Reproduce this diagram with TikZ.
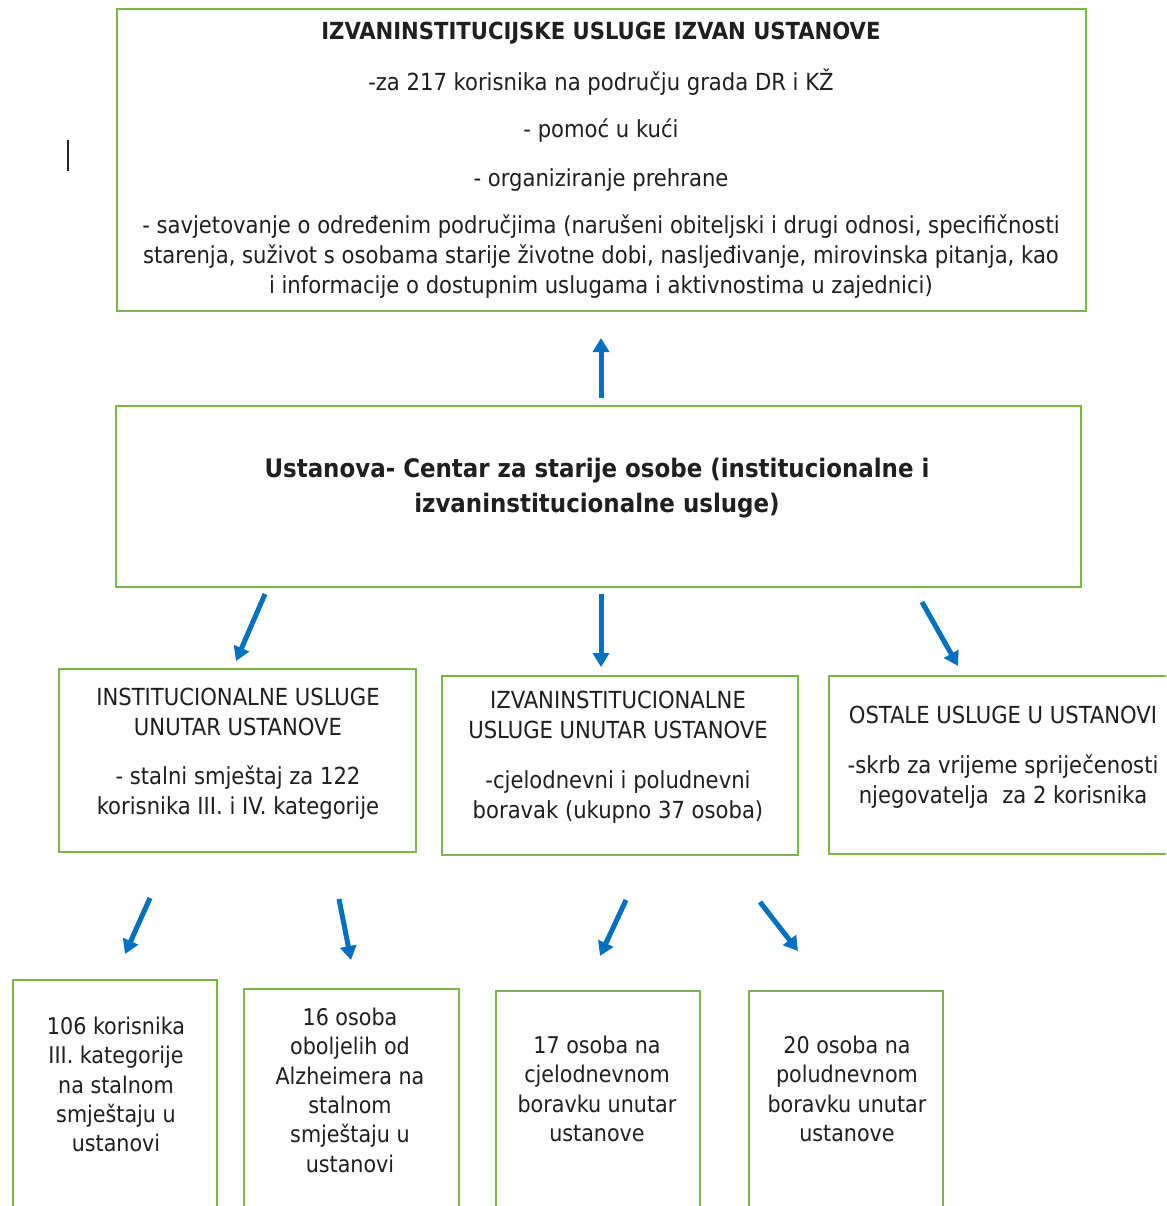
\documentclass[tikz,border=0pt]{standalone}
\usepackage{fontspec}
\setmainfont{DejaVu Sans Condensed}
\usetikzlibrary{arrows.meta}
\definecolor{boxgreen}{RGB}{122,182,72}
\definecolor{arrowblue}{RGB}{0,112,192}
\begin{document}
\begin{tikzpicture}[x=1pt,y=-1pt,
  box/.style={draw=boxgreen,line width=2pt,inner sep=0pt},
  arr/.style={draw=arrowblue,line width=5pt,-{Triangle[width=16pt,length=14pt]}},
  txt/.style={align=center,inner sep=0pt,anchor=north,text=black!88,font=\fontsize{23.5}{30}\selectfont},
  smalltxt/.style={txt,font=\fontsize{23}{29.3}\selectfont},
  bigtxt/.style={align=center,inner sep=0pt,anchor=center,text=black!88,font=\fontsize{25.5}{35}\selectfont\bfseries}]
\useasboundingbox (0,0) rectangle (1166,1206);
\fill[white] (0,0) rectangle (1166,1206);
\begin{scope}
\clip (0,0) rectangle (1166,1206);
% boxes
\node[box,minimum width=969,minimum height=302] (top) at (601.5,160) {};
\node[box,minimum width=965,minimum height=181] (mid) at (598.5,496.5) {};
\node[box,minimum width=357,minimum height=183] (boxL) at (237.5,760.5) {};
\node[box,minimum width=356,minimum height=179] (boxM) at (620,765.5) {};
\node[box,minimum width=371,minimum height=178] (boxR) at (1014.5,765) {};
\node[box,minimum width=204,minimum height=250] (b1) at (115,1105) {};
\node[box,minimum width=215,minimum height=241] (b2) at (351.5,1109.5) {};
\node[box,minimum width=204,minimum height=239] (b3) at (598,1110.5) {};
\node[box,minimum width=194,minimum height=239] (b4) at (846,1110.5) {};
% texts
\node[txt] (topT) at (601,22) {{\bfseries IZVANINSTITUCIJSKE USLUGE IZVAN USTANOVE}\\[21pt]
-za 217 korisnika na području grada DR i KŽ\\[17pt]
- pomoć u kući\\[19pt]
- organiziranje prehrane\\[17pt]
- savjetovanje o određenim područjima (narušeni obiteljski i drugi odnosi, specifičnosti\\
starenja, suživot s osobama starije životne dobi, nasljeđivanje, mirovinska pitanja, kao\\
i informacije o dostupnim uslugama i aktivnostima u zajednici)};
\node[bigtxt] (midT) at (597,488) {Ustanova- Centar za starije osobe (institucionalne i\\izvaninstitucionalne usluge)};
\node[txt] (boxLT) at (238,688) {INSTITUCIONALNE USLUGE\\UNUTAR USTANOVE\\[19pt]- stalni smještaj za 122\\korisnika III. i IV. kategorije};
\node[txt] (boxMT) at (618,691) {IZVANINSTITUCIONALNE\\USLUGE UNUTAR USTANOVE\\[20pt]-cjelodnevni i poludnevni\\boravak (ukupno 37 osoba)};
\node[txt] (boxRT) at (1003,706) {OSTALE USLUGE U USTANOVI\\[20pt]-skrb za vrijeme spriječenosti\\njegovatelja\ \ za 2 korisnika};
\node[smalltxt] (b1T) at (116,1017) {106 korisnika\\III. kategorije\\na stalnom\\smještaju u\\ustanovi};
\node[smalltxt] (b2T) at (350,1008) {16 osoba\\oboljelih od\\Alzheimera na\\stalnom\\smještaju u\\ustanovi};
\node[smalltxt] (b3T) at (597,1036) {17 osoba na\\cjelodnevnom\\boravku unutar\\ustanove};
\node[smalltxt] (b4T) at (847,1036) {20 osoba na\\poludnevnom\\boravku unutar\\ustanove};
% arrow end points
\coordinate (u0) at (601,398); \coordinate (u1) at (601,338);
\coordinate (c1s) at (265,594); \coordinate (c1e) at (236,661);
\coordinate (c2s) at (601,594); \coordinate (c2e) at (601,667);
\coordinate (c3s) at (922,602); \coordinate (c3e) at (958,666);
\coordinate (d1s) at (150,898); \coordinate (d1e) at (125,954);
\coordinate (d2s) at (339,899); \coordinate (d2e) at (351,960);
\coordinate (d3s) at (626,900); \coordinate (d3e) at (600,956);
\coordinate (d4s) at (760,902); \coordinate (d4e) at (798,951);
\draw[arr] (u0) -- (u1);
\draw[arr] (c1s) -- (c1e);
\draw[arr] (c2s) -- (c2e);
\draw[arr] (c3s) -- (c3e);
\draw[arr] (d1s) -- (d1e);
\draw[arr] (d2s) -- (d2e);
\draw[arr] (d3s) -- (d3e);
\draw[arr] (d4s) -- (d4e);
% stray text cursor bar
\draw[line width=2pt,black!85] (68,140) -- (68,171);
\end{scope}
\end{tikzpicture}
\end{document}
